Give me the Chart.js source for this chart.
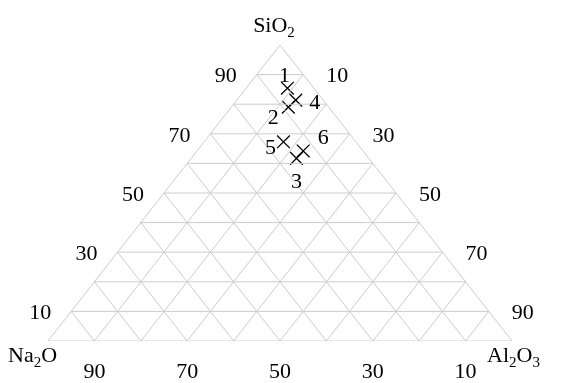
<!DOCTYPE html>
<html>
<head>
<meta charset="utf-8">
<script src="https://cdn.jsdelivr.net/npm/chart.js@4/dist/chart.umd.min.js"></script>
<style>
  html, body { margin: 0; padding: 0; background: #fff; }
  #wrap { width: 574px; height: 383px; position: relative; }
</style>
</head>
<body>
<div id="wrap"><canvas id="myChart"></canvas></div>
<script>
// sample compositions (%)
var sampleNames = ["1", "2", "3", "4", "5", "6"];
var sio2 = [85.4, 79.0, 61.7, 81.4, 67.3, 64.2];
var al2o3 = [8.9, 12.3, 22.7, 12.7, 17.1, 22.9];
var na2o = [5.7, 8.7, 15.6, 5.9, 15.6, 12.9];

// apexes and tick labels
var topName = "SiO2";
var leftName = "Na2O";
var rightName = "Al2O3";
var sio2Ticks = [10, 30, 50, 70, 90];
var al2o3Ticks = [10, 30, 50, 70, 90];
var na2oTicks = [90, 70, 50, 30, 10];
var gridSteps = [0, 10, 20, 30, 40, 50, 60, 70, 80, 90];

// where each sample number sits relative to its marker (px)
var labelOffsets = [[-3, -12], [-15, 11], [0, 24], [19, 3], [-13, 6], [20, -13]];

// ternary -> cartesian (x 0..100 along base, y 0..100 up to SiO2)
function tern(si, al) {
    return { x: al + si / 2, y: si };
}

var gridColor = '#cccccc';
var datasets = [];

function gridLine(a, b) {
    datasets.push({
        type: 'line',
        data: [a, b],
        borderColor: gridColor,
        borderWidth: 1,
        pointRadius: 0,
        fill: false,
        tension: 0
    });
}

gridSteps.forEach(function (v) {
    // constant SiO2
    gridLine(tern(v, 0), tern(v, 100 - v));
    // constant Al2O3
    gridLine(tern(0, v), tern(100 - v, v));
    // constant Na2O
    gridLine(tern(0, 100 - v), tern(100 - v, 0));
});

var pts = sio2.map(function (s, i) { return tern(s, al2o3[i]); });
datasets.push({
    type: 'scatter',
    data: pts,
    pointStyle: 'crossRot',
    pointRadius: 9,
    pointBorderColor: '#000',
    pointBorderWidth: 1.3,
    pointBackgroundColor: '#000'
});

var FONT = '"Liberation Serif", "Times New Roman", serif';

function drawFormula(ctx, text, x, y, align) {
    // digits become subscripts
    var parts = text.match(/[0-9]+|[^0-9]+/g);
    var big = '22px ' + FONT, small = '15px ' + FONT;
    var w = 0;
    parts.forEach(function (p) {
        ctx.font = /[0-9]/.test(p) ? small : big;
        w += ctx.measureText(p).width;
    });
    var cx = align === 'center' ? x - w / 2 : x;
    ctx.textAlign = 'left';
    ctx.textBaseline = 'alphabetic';
    parts.forEach(function (p) {
        var sub = /[0-9]/.test(p);
        ctx.font = sub ? small : big;
        ctx.fillText(p, cx, sub ? y + 5 : y);
        cx += ctx.measureText(p).width;
    });
}

var ternaryText = {
    id: 'ternaryText',
    afterDatasetsDraw: function (chart) {
        var ctx = chart.ctx;
        var xs = chart.scales.x, ys = chart.scales.y;
        function px(p) { return { x: xs.getPixelForValue(p.x), y: ys.getPixelForValue(p.y) }; }
        ctx.save();
        ctx.fillStyle = '#000';
        ctx.font = '22px ' + FONT;
        ctx.textAlign = 'center';
        ctx.textBaseline = 'middle';

        sio2Ticks.forEach(function (v) {
            var p = px(tern(v, 0));
            ctx.fillText(String(v), p.x - 31, p.y + 2);
        });
        al2o3Ticks.forEach(function (v) {
            var p = px(tern(100 - v, v));
            ctx.fillText(String(v), p.x + 34, p.y + 2);
        });
        na2oTicks.forEach(function (v) {
            var p = px(tern(0, 100 - v));
            ctx.fillText(String(v), p.x, p.y + 31);
        });

        pts.forEach(function (pt, i) {
            var p = px(pt);
            ctx.font = '22px ' + FONT;
            ctx.textAlign = 'center';
            ctx.textBaseline = 'middle';
            ctx.fillText(sampleNames[i], p.x + labelOffsets[i][0], p.y + labelOffsets[i][1]);
        });

        var apex = px(tern(100, 0)), left = px(tern(0, 0)), right = px(tern(0, 100));
        drawFormula(ctx, topName, apex.x - 6, apex.y - 13, 'center');
        drawFormula(ctx, leftName, left.x - 40, left.y + 21, 'left');
        drawFormula(ctx, rightName, right.x - 25, right.y + 21, 'left');
        ctx.restore();
    }
};

var ctx = document.getElementById("myChart").getContext('2d');
var myChart = new Chart(ctx, {
    type: 'scatter',
    data: { datasets: datasets },
    options: {
        responsive: true,
        maintainAspectRatio: false,
        animation: false,
        layout: { padding: { left: 48, right: 62, top: 45, bottom: 42 } },
        plugins: { legend: { display: false }, tooltip: { enabled: false } },
        scales: {
            x: { type: 'linear', min: 0, max: 100, display: false },
            y: { type: 'linear', min: 0, max: 100, display: false }
        }
    },
    plugins: [ternaryText]
});
</script>
</body>
</html>
